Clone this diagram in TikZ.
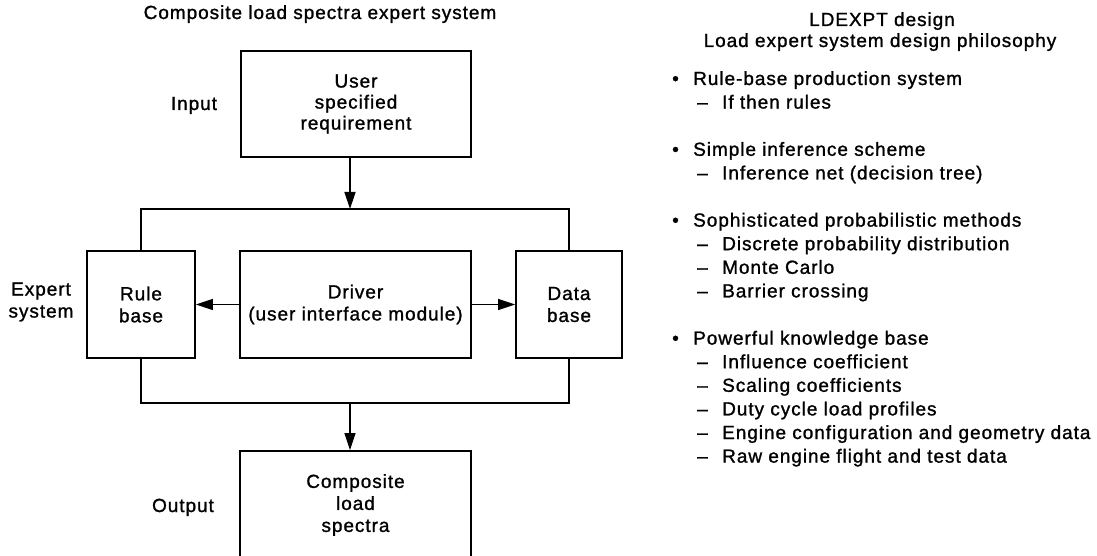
\documentclass[tikz,border=0pt]{standalone}
\usepackage{fontspec}
\setmainfont[LetterSpace=5,FakeBold=1.2]{Liberation Sans}
\usetikzlibrary{arrows.meta}
\begin{document}
\begin{tikzpicture}[x=1pt,y=-1pt,
  every node/.style={font=\fontsize{19}{22}\selectfont, inner sep=0pt},
  box/.style={draw, line width=1.8pt, align=center},
  conn/.style={line width=1.4pt},
  arr/.style={conn, -{Triangle[length=17pt,width=11pt]}},
  lbl/.style={anchor=base},
  item/.style={anchor=base west},
]
\useasboundingbox (0,0) rectangle (1097,556);
\clip (0,0) rectangle (1097,556);
% titles
\node[lbl] (t1) at (320,19) {Composite load spectra expert system};
\node[lbl] (t2) at (882,26) {LDEXPT design};
\node[lbl] (t3) at (880,47) {Load expert system design philosophy};
% boxes
\node[box, minimum width=230pt, minimum height=106pt, font=\fontsize{19}{21}\selectfont] (user) at (356,104) {User\\specified\\requirement};
\node[box, minimum width=108pt, minimum height=107pt] (rule) at (141,304.5) {Rule\\base};
\node[box, minimum width=231pt, minimum height=107pt] (driver) at (355.5,304.5) {Driver\\(user interface module)};
\node[box, minimum width=106pt, minimum height=107pt] (data) at (569,304.5) {Data\\base};
\node[box, minimum width=231pt, minimum height=108pt] (comp) at (355.5,505) {Composite\\load\\spectra};
% side labels
\node[lbl] (input) at (194,110) {Input};
\node[align=center] (expert) at (41,302) {Expert\\system};
\node[lbl] (output) at (183,512) {Output};
% connectors
\coordinate (topm) at (350,209);
\coordinate (botm) at (350,403);
\draw[arr] (user.south -| topm) -- (topm);
\draw[conn] (rule.north) |- (topm) -| (data.north);
\draw[conn] (rule.south) |- (botm) -| (data.south);
\draw[arr] (botm) -- (botm |- comp.north);
\draw[arr] (driver.west) -- (rule.east);
\draw[arr] (driver.east) -- (data.west);
% list
\newcommand{\bul}[1]{\makebox[21pt][l]{•}#1}
\newcommand{\sub}[1]{\makebox[25pt][l]{–}#1}
\node[item] (l0) at (672,85) {\bul{Rule-base production system}};
\node[item] (l1) at (697,108.6) {\sub{If then rules}};
\node[item] (l3) at (672,155.8) {\bul{Simple inference scheme}};
\node[item] (l4) at (697,179.4) {\sub{Inference net (decision tree)}};
\node[item] (l6) at (672,226.6) {\bul{Sophisticated probabilistic methods}};
\node[item] (l7) at (697,250.2) {\sub{Discrete probability distribution}};
\node[item] (l8) at (697,273.8) {\sub{Monte Carlo}};
\node[item] (l9) at (697,297.4) {\sub{Barrier crossing}};
\node[item] (l11) at (672,344.6) {\bul{Powerful knowledge base}};
\node[item] (l12) at (697,368.2) {\sub{Influence coefficient}};
\node[item] (l13) at (697,391.8) {\sub{Scaling coefficients}};
\node[item] (l14) at (697,415.4) {\sub{Duty cycle load profiles}};
\node[item] (l15) at (697,439) {\sub{Engine configuration and geometry data}};
\node[item] (l16) at (697,462.6) {\sub{Raw engine flight and test data}};
\end{tikzpicture}
\end{document}
